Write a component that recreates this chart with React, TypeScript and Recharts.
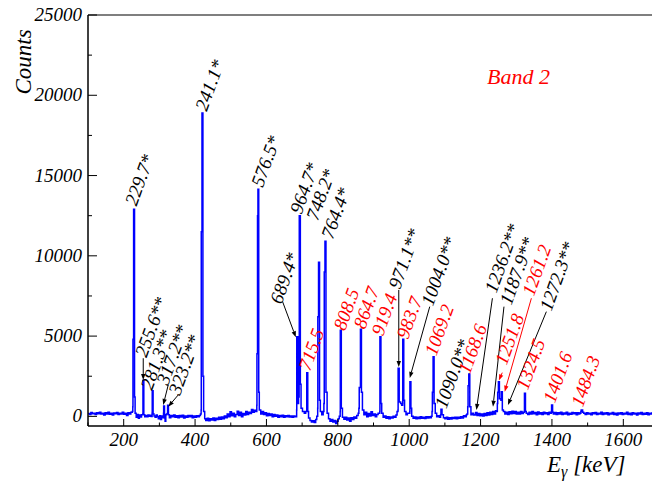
import { Line, LineChart, ReferenceDot, ReferenceLine, XAxis, YAxis } from "recharts";

// gamma spectrum, [E keV, counts]
const spectrumLow: [number, number][] = [
  [100, 180], [104, 120], [108, 240], [112, 160], [116, 200], [120, 110], [124, 230], [128, 170],
  [132, 260], [136, 140], [140, 200], [144, 90], [148, 220], [152, 150], [156, 250], [160, 130],
  [164, 190], [168, 80], [172, 210], [176, 160], [180, 240], [184, 110], [188, 190], [192, 150],
  [196, 260], [200, 130], [204, 200], [208, 60], [212, 220], [216, 150], [220, 250], [224, 300],
  [225.5, 600], [226, 4800], [227.5, 4800], [227.8, 12900], [230, 12900], [230.4, 1200], [232, 200],
  [235, -60], [238, 120], [241, -120], [244, 80], [247, -40], [250, 100], [253.6, 150], [254, 2250],
  [256, 2250], [256.4, 100], [259, -30], [262, 60], [265, -20], [268, 90], [271, 0], [274, 70],
  [277, -10], [279.6, 200], [280, 1600], [282, 1600], [282.4, 150], [285, 30], [288, -60], [291, 90],
  [294, -20], [297, -150], [300, 40], [303, -200], [306, 30], [309, -80], [311.6, 200], [312, 650],
  [314, 650], [314.4, -100], [316, -300], [318, 100], [320, 150], [322.6, 200], [323, 700], [325, 700],
  [325.4, 100], [328, -80], [332, 60], [336, -30], [340, 80], [344, -60], [348, 40], [352, -90],
  [356, 50], [360, -40], [364, 70], [368, -100], [372, 20], [376, -60], [380, 60], [384, -20],
  [388, 50], [392, -80], [396, 30], [400, -60], [404, 40], [408, -30], [412, 60], [415, 150],
  [417, 400], [417.4, 11500], [419, 11500], [419.4, 18900], [421.6, 18900], [422, 2500], [424, 300],
];

const spectrumMid: [number, number][] = [
  [427, -150], [430, -250], [434, -120], [438, -280], [442, -150], [446, -230], [450, -100], [454, -260],
  [458, -120], [462, -200], [466, -60], [470, -180], [474, -40], [478, -150], [482, 20], [486, -80],
  [490, 150], [494, -20], [498, 280], [502, 40], [506, 200], [510, -30], [514, 120], [518, 320],
  [522, 60], [526, 260], [530, -20], [534, 180], [538, 80], [542, 300], [546, 120], [550, 250],
  [554, 180], [558, 420], [562, 260], [566, 380], [570, 300], [573, 700], [573.4, 3900], [574.6, 3900],
  [575, 12500], [576, 12500], [576.2, 14150], [578, 14150], [578.4, 1500], [580, 400],
  [584, 150], [588, 300], [592, 120], [596, 220], [600, 40], [604, 180], [608, 60], [612, 140],
  [616, -20], [620, 110], [624, 0], [628, 90], [632, -50], [636, 60], [640, -20], [644, 70],
  [648, -60], [652, 40], [656, -30], [660, 60], [664, -40], [668, 30], [672, -60], [676, 20],
  [680, -20], [684.6, 400], [685, 4960], [687.6, 4960], [688, 800], [690, 1200], [691.6, 3000],
  [692, 12500], [694.6, 12500], [695, 2000], [697, 500], [701, 300], [706, 200], [710, 300],
  [712.6, 300], [713, 2720], [715.4, 2720], [715.8, 300], [718, -100], [722, -250], [726, -350],
  [730, -280], [734, -380], [738, -200], [741, 0], [743.6, 500], [744, 6200], [745.6, 6200],
  [746, 9600], [748.4, 9600], [748.8, 1000], [751, 300], [755, 100], [759, 300], [761, 800],
  [762, 9000], [763.6, 9000], [764, 10900], [766.4, 10900], [766.8, 1500], [770, 200], [774, -150],
  [778, -300], [782, -200], [786, -350], [790, -250], [794, -450], [798, -300], [801, -150],
];

const spectrumHigh: [number, number][] = [
  [804, 0], [806.6, 300], [807, 5370], [809.4, 5370], [809.8, 500], [813, -50], [817, -180], [821, -60],
  [825, -220], [829, -100], [833, -300], [837, -80], [841, -200], [845, -40], [849, -120], [853, 60],
  [857, 200], [859, 500], [860, 1800], [863, 1800], [863.4, 5430], [865.8, 5430], [866.2, 1500],
  [869, 400], [873, 100], [877, 250], [881, -20], [885, 180], [889, 20], [893, 280], [897, 60],
  [901, 150], [905, -30], [909, 120], [913, 200], [917.6, 300], [918, 4960], [920.4, 4960],
  [920.8, 800], [923, 200], [927, -60], [931, 30], [935, -120], [939, -20], [943, -150], [947, -40],
  [951, -100], [955, 0], [959, -60], [963, 80], [966, 300], [968.6, 400], [969, 3000], [971.6, 3000],
  [972, 900], [976, 800], [979, 700], [981.6, 800], [982, 4800], [984.4, 4800], [984.8, 1000],
  [987, 300], [991, 100], [995, 200], [999, 200], [1001.6, 300], [1002, 2160], [1004.4, 2160],
  [1004.8, 500], [1007, 0], [1011, -120], [1015, -40], [1019, -150], [1023, -60], [1027, -130],
  [1031, -20], [1035, -110], [1039, -50], [1043, -140], [1047, -30], [1051, -100], [1055, -20],
  [1059, -80], [1062, 0], [1064, 300], [1065, 1500], [1066.6, 1500], [1067, 3710], [1069.4, 3710],
  [1069.8, 800], [1073, 200], [1077, -20], [1081, 40], [1085, -60], [1088, 100], [1089, 450],
  [1091.4, 450], [1092, 100], [1096, -80], [1100, -150], [1104, -60], [1108, -180], [1112, -90],
  [1116, -160], [1120, -70], [1124, -140], [1128, -50], [1132, -150], [1136, -60], [1140, -120],
  [1144, -20], [1148, -100], [1152, 40], [1156, -30], [1160, 100], [1162, 150], [1164, 600],
  [1165, 1900], [1166.6, 1900], [1167, 2640], [1169.4, 2640], [1169.8, 600], [1173, 100], [1177, 200],
  [1181, 80], [1185, 100], [1186.6, 240], [1189, 240], [1190, 50], [1194, 180], [1198, 40],
];

const spectrumTail: [number, number][] = [
  [1202, 150], [1206, 20], [1210, 180], [1214, 60], [1218, 220], [1222, 80], [1226, 250], [1230, 120],
  [1234, 300], [1238, 150], [1242, 350], [1245, 300], [1247, 800], [1248, 1500], [1249.6, 1500],
  [1250, 2160], [1252.4, 2160], [1252.8, 1100], [1257, 1000], [1258, 1540], [1260.6, 1540], [1261, 400],
  [1264, 300], [1268, 150], [1272, 250], [1276, 120], [1280, 280], [1284, 160], [1288, 320], [1292, 180],
  [1296, 300], [1300, 150], [1304, 260], [1308, 140], [1312, 300], [1316, 180], [1320, 250],
  [1322.6, 300], [1323, 1440], [1325.4, 1440], [1325.8, 300], [1328, 200], [1332, 120], [1336, 260],
  [1340, 140], [1344, 310], [1348, 160], [1352, 240], [1356, 100], [1360, 270], [1364, 150], [1368, 230],
  [1372, 110], [1376, 260], [1380, 160], [1384, 220], [1388, 120], [1392, 250], [1396, 200],
  [1398.6, 300], [1399, 715], [1401.4, 715], [1401.8, 250], [1404, 150], [1408, 240], [1412, 110],
  [1416, 220], [1420, 150], [1424, 260], [1428, 120], [1432, 210], [1436, 140], [1440, 250], [1444, 100],
  [1448, 200], [1452, 130], [1456, 240], [1460, 160], [1464, 220], [1468, 100], [1472, 230], [1476, 150],
  [1478, 200], [1481, 300], [1482, 400], [1485, 400], [1486, 250], [1489, 200], [1493, 120], [1497, 230],
  [1501, 140], [1505, 200], [1509, 100], [1513, 220], [1517, 160], [1521, 240], [1525, 120], [1529, 200],
  [1533, 150], [1537, 250], [1541, 110], [1545, 210], [1549, 140], [1553, 230], [1557, 100], [1561, 190],
  [1565, 150], [1569, 240], [1573, 120], [1577, 200], [1581, 90], [1585, 210], [1589, 150], [1593, 230],
  [1597, 110], [1601, 200], [1605, 140], [1609, 250], [1613, 120], [1617, 190], [1621, 100], [1625, 220],
  [1629, 140], [1633, 200], [1637, 90], [1641, 210], [1645, 150], [1649, 240], [1653, 110], [1657, 190],
  [1661, 130], [1665, 220], [1669, 100], [1673, 200], [1677, 140], [1681, 230], [1685, 110], [1689, 190],
  [1693, 150], [1697, 200], [1700, 140],
];

// peak labels: text, anchor (E, counts)
const blackLabels: [string, number, number][] = [
  ["229.7*", 236, 13060], ["241.1*", 433, 18960], ["576.5*", 590, 14230], ["964.7*", 698, 12550],
  ["748.2*", 744, 12140], ["764.4*", 786, 10990], ["689.4*", 642, 6940], ["255.6**", 264, 3620],
  ["281.3**", 279, 1580], ["317.2**", 324, 1890], ["323.2**", 358, 1270], ["971.1**", 974, 7875],
  ["1004.0**", 1066, 6815], ["1090.0**", 1104, 430], ["1236.2**", 1244, 7625],
  ["1187.9**", 1286, 6880], ["1272.3**", 1398, 6500],
];

const redLabels: [string, number, number][] = [
  ["715.5", 722, 2785], ["808.5", 820, 5280], ["864.7", 876, 5380], ["919.4", 927, 4965],
  ["983.7", 997, 4760], ["1069.2", 1076, 3720], ["1168.6", 1170, 2580], ["1251.8", 1273, 3140],
  ["1261.2", 1349, 7440], ["1324.5", 1332, 1580], ["1401.6", 1408, 773], ["1484.3", 1486, 523],
];

// arrows: [E1, C1, E2, C2, colour]
const arrows: [number, number, number, number, string][] = [
  [254.8, 3620, 254.8, 2268, "#000"],
  [324.8, 1956, 310.8, 710, "#000"],
  [352.8, 1333, 324.8, 604, "#000"],
  [645.2, 7146, 682.4, 4928, "#000"],
  [970.8, 7875, 970.8, 3078, "#000"],
  [1057.6, 6834, 1001.6, 2392, "#000"],
  [1233.2, 7358, 1188.4, 399, "#000"],
  [1265.6, 6834, 1234.8, 604, "#000"],
  [1384.4, 6523, 1276.8, 710, "#000"],
  [1260.8, 2723, 1251.2, 2237, "#ff0000"],
  [1342.4, 7358, 1267.6, 1539, "#ff0000"],
];

const xTicks = [100, 200, 300, 400, 500, 600, 700, 800, 900, 1000, 1100, 1200, 1300, 1400, 1500, 1600, 1700];
const yTicks = [0, 2500, 5000, 7500, 10000, 12500, 15000, 17500, 20000, 22500, 25000];

const FONT = "'Liberation Serif', 'DejaVu Serif', serif";
const W = 660;
const H = 484;

const data = [...spectrumLow, ...spectrumMid, ...spectrumHigh, ...spectrumTail].map(([e, c]) => ({ e, c }));

function XTick({ x, y, payload }: any) {
  const major = payload.value % 200 === 0;
  return (
    <g>
      <line x1={x} x2={x} y1={y} y2={y - (major ? 7 : 3.5)} stroke="#000" strokeWidth={1} />
      {major && (
        <text x={x} y={y + 20} textAnchor="middle" fontFamily={FONT} fontStyle="italic" fontSize={19} fill="#000">
          {payload.value}
        </text>
      )}
    </g>
  );
}

function YTick({ x, y, payload }: any) {
  const major = payload.value % 5000 === 0;
  return (
    <g>
      <line x1={x} x2={x + (major ? 9 : 4)} y1={y} y2={y} stroke="#000" strokeWidth={1} />
      {major && (
        <text x={x - 6} y={y + 6} textAnchor="end" fontFamily={FONT} fontStyle="italic" fontSize={19} fill="#000">
          {payload.value}
        </text>
      )}
    </g>
  );
}

function arrowShape(color: string) {
  return (p: any) => {
    const { x1, y1, x2, y2 } = p;
    const dx = x2 - x1;
    const dy = y2 - y1;
    const len = Math.sqrt(dx * dx + dy * dy) || 1;
    const ux = dx / len;
    const uy = dy / len;
    const hl = 6;
    const hw = 2.2;
    const bx = x2 - ux * hl;
    const by = y2 - uy * hl;
    const pts = `${x2},${y2} ${bx - uy * hw},${by + ux * hw} ${bx + uy * hw},${by - ux * hw}`;
    return (
      <g>
        <line x1={x1} y1={y1} x2={bx} y2={by} stroke={color} strokeWidth={1} />
        <polygon points={pts} fill={color} />
      </g>
    );
  };
}

function labelShape(text: string, color: string) {
  return (p: any) => (
    <text
      x={p.cx}
      y={p.cy}
      transform={`rotate(-70 ${p.cx} ${p.cy})`}
      fontFamily={FONT}
      fontStyle="italic"
      fontSize={19}
      fill={color}
    >
      {text}
    </text>
  );
}

export default function App() {
  return (
    <div style={{ position: "relative", width: W, height: H, margin: "-8px 0 0 -8px" }}>
      <LineChart width={W} height={H} data={data} margin={{ top: 15, right: 1, bottom: 0, left: 0 }}>
        <XAxis
          type="number"
          dataKey="e"
          domain={[100, 1700]}
          ticks={xTicks}
          interval={0}
          allowDataOverflow
          height={58}
          tickSize={0}
          tickMargin={0}
          tickLine={false}
          tick={XTick}
          axisLine={{ stroke: "#000", strokeWidth: 1.5 }}
        />
        <YAxis
          type="number"
          domain={[-600, 25000]}
          ticks={yTicks}
          interval={0}
          allowDataOverflow
          width={88}
          tickSize={0}
          tickMargin={0}
          tickLine={false}
          tick={YTick}
          axisLine={{ stroke: "#000", strokeWidth: 1.5 }}
        />
        <ReferenceLine y={25000} stroke="#555" strokeWidth={1.5} />
        <ReferenceLine x={1700} stroke="#777" strokeWidth={1} />
        <Line
          type="stepAfter"
          dataKey="c"
          stroke="#0000ff"
          strokeWidth={1.5}
          dot={false}
          activeDot={false}
          isAnimationActive={false}
        />
        {arrows.map(([e1, c1, e2, c2, col], i) => (
          <ReferenceLine
            key={`a${i}`}
            segment={[{ x: e1, y: c1 }, { x: e2, y: c2 }]}
            shape={arrowShape(col)}
          />
        ))}
        {blackLabels.map(([t, e, c]) => (
          <ReferenceDot key={t} x={e} y={c} r={0} shape={labelShape(t, "#000")} />
        ))}
        {redLabels.map(([t, e, c]) => (
          <ReferenceDot key={t} x={e} y={c} r={0} shape={labelShape(t, "#ff0000")} />
        ))}
      </LineChart>
      <svg width={W} height={H} style={{ position: "absolute", left: 0, top: 0, pointerEvents: "none" }}>
        <text
          x={31}
          y={62}
          transform="rotate(-90 31 62)"
          textAnchor="middle"
          fontFamily={FONT}
          fontStyle="italic"
          fontSize={23}
          fill="#000"
        >
          Counts
        </text>
        <text x={487} y={84} fontFamily={FONT} fontStyle="italic" fontSize={22} fill="#ff0000">
          Band 2
        </text>
        <text x={547} y={472} fontFamily={FONT} fontStyle="italic" fontSize={23} fill="#000">
          E
          <tspan fontSize={16} dy={5}>γ</tspan>
          <tspan dy={-5}> [keV]</tspan>
        </text>
      </svg>
    </div>
  );
}
